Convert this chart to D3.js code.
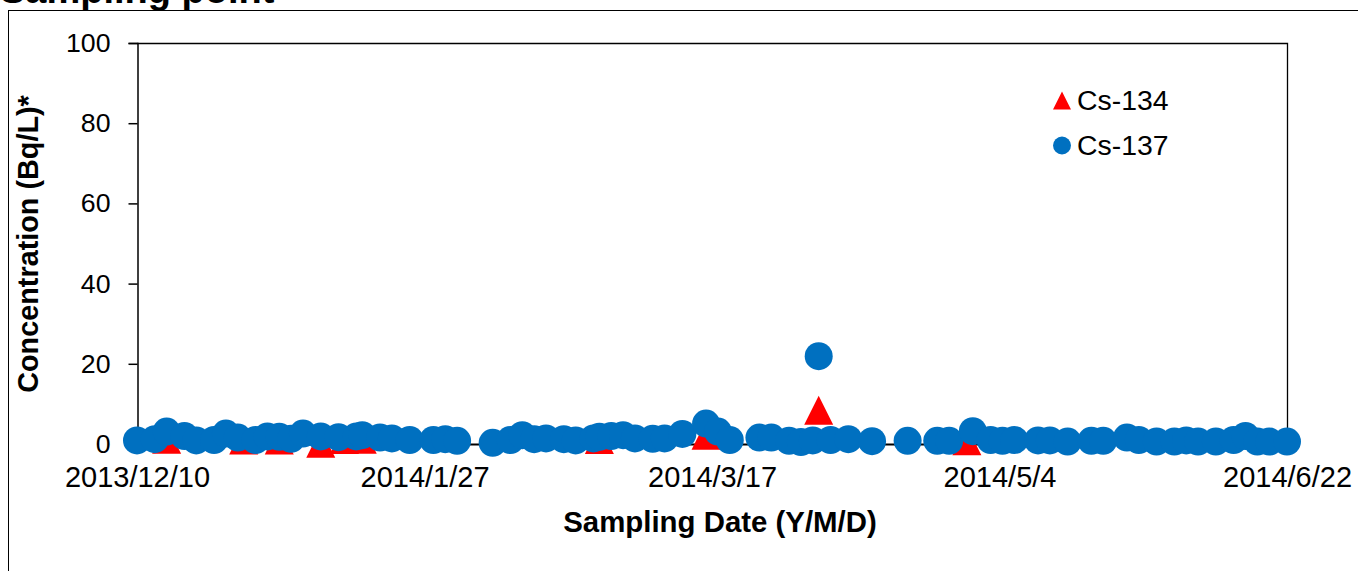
<!DOCTYPE html>
<html><head><meta charset="utf-8">
<script src="https://cdn.jsdelivr.net/npm/d3@7"></script>
<style>
html,body{margin:0;padding:0;background:#fff;}
text{font-family:"Liberation Sans",Arial,sans-serif;fill:#000;}
</style></head>
<body><svg id="chart" width="1358" height="571"></svg>
<script>
// ---- data ----
const titleText = "Sampling point";
const seriesNames = ["Cs-134", "Cs-137"];
const xTickLabels = ["2013/12/10", "2014/1/27", "2014/3/17", "2014/5/4", "2014/6/22"];
const yTicks = [0, 20, 40, 60, 80, 100];
const xDomain = ["2013-12-10", "2014-06-22"];

const cs137Dates = ["2013-12-10","2013-12-13","2013-12-15","2013-12-18","2013-12-20","2013-12-23","2013-12-25","2013-12-27","2013-12-30",
 "2014-01-01","2014-01-03","2014-01-05","2014-01-07","2014-01-10","2014-01-13","2014-01-16","2014-01-17","2014-01-20","2014-01-22","2014-01-25","2014-01-29","2014-01-31",
 "2014-02-02","2014-02-08","2014-02-11","2014-02-13","2014-02-15","2014-02-17","2014-02-20","2014-02-22","2014-02-25","2014-02-26","2014-02-28",
 "2014-03-02","2014-03-04","2014-03-07","2014-03-09","2014-03-12","2014-03-16","2014-03-18","2014-03-20","2014-03-25","2014-03-27","2014-03-30",
 "2014-04-01","2014-04-03","2014-04-04","2014-04-06","2014-04-09","2014-04-13","2014-04-19","2014-04-24","2014-04-26","2014-04-30",
 "2014-05-03","2014-05-05","2014-05-07","2014-05-11","2014-05-13","2014-05-16","2014-05-20","2014-05-22","2014-05-26","2014-05-28","2014-05-31",
 "2014-06-03","2014-06-05","2014-06-07","2014-06-10","2014-06-13","2014-06-15","2014-06-17","2014-06-19","2014-06-22"];
const cs137Values = [0.9,1.2,3.1,2.0,0.9,1.0,2.6,1.6,1.0,
 1.9,1.8,1.3,2.6,1.9,1.7,1.9,2.2,1.6,1.4,1.0,1.0,1.2,
 0.8,0.3,1.0,2.2,1.2,1.4,1.2,0.9,1.4,1.8,2.0,
 2.2,1.4,1.3,1.4,2.5,5.1,3.1,1.0,1.6,1.6,0.8,
 0.5,0.9,21.9,1.0,1.2,0.7,0.8,0.8,0.8,3.2,
 1.0,0.8,1.0,0.9,0.9,0.6,0.8,0.8,1.6,1.0,0.6,
 0.6,0.9,0.6,0.6,1.0,2.0,0.6,0.6,0.6];

const cs134Dates = ["2013-12-15","2013-12-28","2014-01-03","2014-01-10","2014-01-14","2014-01-17","2014-02-26","2014-03-16","2014-04-04","2014-04-29"];
const cs134Values = [1.2,1.0,1.0,0.2,1.1,1.2,1.1,2.2,8.4,0.8];

// ---- chart ----
const FONT = "'Liberation Sans',Arial,sans-serif";
const svg = d3.select("#chart");
svg.append("rect").attr("x",0).attr("y",0).attr("width",1358).attr("height",571).attr("fill","#fff");
// outer chart frame
svg.append("rect").attr("x",8.5).attr("y",10.5).attr("width",1400).attr("height",600)
  .attr("fill","none").attr("stroke","#000").attr("stroke-width",1);
// title (cut off at top, as in the reference)
svg.append("text").attr("x",0).attr("y",3).attr("font-weight","bold").attr("font-size",38).text(titleText);

const parse = d3.timeParse("%Y-%m-%d");
const x = d3.scaleTime().domain(xDomain.map(parse)).range([137, 1287]);
const y = d3.scaleLinear().domain([0, 100]).range([444, 43]);

// plot area border (top & right)
svg.append("path").attr("d", `M${x.range()[0]},${y(100)+0.5}H${x.range()[1]+0.5}V${y(0)}`)
  .attr("fill","none").attr("stroke","#000").attr("stroke-width",1.3);

// y axis
const yAxis = d3.axisLeft(y).tickValues(yTicks).tickSize(9).tickPadding(18).tickFormat(d3.format("d"));
const gy = svg.append("g").attr("transform","translate(137.5,0)").call(yAxis);
gy.select(".domain").attr("stroke","#000").attr("stroke-width",1.5);
gy.selectAll(".tick line").attr("stroke","#000").attr("stroke-width",1.5);
gy.selectAll(".tick text").attr("font-size",26.7).attr("font-family",FONT).attr("fill","#000");

// x axis: evenly spaced ticks across domain
const [d0, d1] = x.domain();
const xTickVals = xTickLabels.map((_, i) => new Date(+d0 + (d1 - d0) * i / (xTickLabels.length - 1)));
const xAxis = d3.axisBottom(x).tickValues(xTickVals).tickSize(0).tickPadding(22)
  .tickFormat((d, i) => xTickLabels[i]);
const gx = svg.append("g").attr("transform",`translate(0,${y(0)})`).call(xAxis);
gx.select(".domain").attr("stroke","#000").attr("stroke-width",2);
gx.selectAll(".tick text").attr("font-size",29).attr("font-family",FONT).attr("fill","#000");

// axis titles
svg.append("text").attr("x",720).attr("y",532).attr("text-anchor","middle")
  .attr("font-weight","bold").attr("font-size",29.4).text("Sampling Date (Y/M/D)");
svg.append("text").attr("transform","translate(38,244) rotate(-90)").attr("text-anchor","middle")
  .attr("font-weight","bold").attr("font-size",28.8).text("Concentration (Bq/L)*");

// markers
const tri = (s) => `M0,${-s/2}L${s/2},${s/2}L${-s/2},${s/2}Z`;
const cs134 = cs134Dates.map((d, i) => ({date: parse(d), value: cs134Values[i]}));
const cs137 = cs137Dates.map((d, i) => ({date: parse(d), value: cs137Values[i]}));

svg.append("g").selectAll("path").data(cs134).join("path")
  .attr("transform", d => `translate(${x(d.date)},${y(d.value)})`)
  .attr("d", tri(29)).attr("fill","#FF0000");
svg.append("g").selectAll("circle").data(cs137).join("circle")
  .attr("cx", d => x(d.date)).attr("cy", d => y(d.value)).attr("r", 14).attr("fill","#0070C0");

// legend
const lg = svg.append("g");
lg.append("path").attr("transform","translate(1062,100.5)").attr("d", tri(18)).attr("fill","#FF0000");
lg.append("text").attr("x",1077).attr("y",110).attr("font-size",28.4).text(seriesNames[0]);
lg.append("circle").attr("cx",1062).attr("cy",145.5).attr("r",9).attr("fill","#0070C0");
lg.append("text").attr("x",1077).attr("y",155).attr("font-size",28.4).text(seriesNames[1]);
</script></body></html>
